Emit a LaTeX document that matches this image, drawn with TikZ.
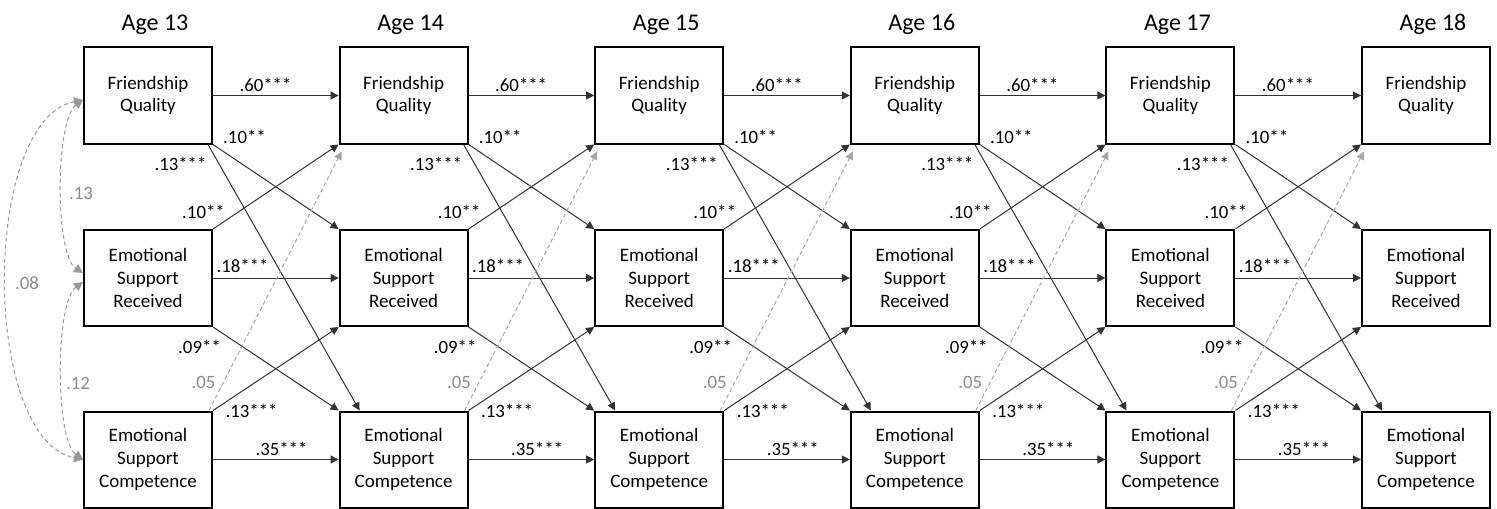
\documentclass[tikz,border=0pt]{standalone}
\usepackage{fontspec}
\setmainfont{Carlito}
\usetikzlibrary{arrows.meta, positioning}

\begin{document}
\begin{tikzpicture}[
    x=0.5pt, y=-0.5pt,
    var/.style={rectangle, draw=black, line width=1pt, minimum width=64pt,
                minimum height=48pt, inner sep=0pt, align=center,
                font=\fontsize{9.5pt}{11.3pt}\selectfont},
    age/.style={inner sep=0pt, font=\fontsize{12pt}{14pt}\selectfont},
    coef/.style={inner sep=0pt, font=\fontsize{9.4pt}{11pt}\selectfont},
    ncoef/.style={coef, text=black!45},
    reg/.style={-{Triangle[length=4pt, width=4pt]}, line width=0.5pt, draw=black!80},
    nsreg/.style={-{Triangle[length=4pt, width=4pt]}, line width=0.5pt, draw=black!35,
                  dash pattern=on 2pt off 1.5pt},
    cov/.style={{Triangle[length=4.5pt, width=4.5pt]}-{Triangle[length=4.5pt, width=4.5pt]},
                line width=0.5pt, draw=black!40, dash pattern=on 2pt off 1.5pt},
]
\useasboundingbox (0,0) rectangle (1497,508);

% Variables at each age
\foreach \a [evaluate=\a as \x using 148+255.6*(\a-13)] in {13,...,18}{
  \node[var] (fq\a)  at (\x, 95.5)  {Friendship\\Quality};
  \node[var] (esr\a) at (\x, 278)   {Emotional\\Support\\Received};
  \node[var] (esc\a) at (\x, 459.5) {Emotional\\Support\\Competence};
  \node[age, above=5.5pt of fq\a, xshift=3.5pt] (age\a) {Age \a};
}

% Stability and cross-lagged paths
\foreach \a [evaluate=\a as \b using int(\a+1)] in {13,...,17}{
  \draw[reg] (fq\a) -- (fq\b);
  \draw[reg] (esr\a) -- (esr\b);
  \draw[reg] (esc\a) -- (esc\b);
  \draw[reg] (fq\a.south east) -- (esr\b.north west);
  \draw[reg] ([xshift=-2.5pt]fq\a.south east) -- ([xshift=10.5pt]esc\b.north west);
  \draw[reg] (esr\a.north east) -- (fq\b.south west);
  \draw[reg] (esr\a.south east) -- (esc\b.north west);
  \draw[reg] (esc\a.north east) -- (esr\b.south west);
  \draw[nsreg] ([xshift=-2pt]esc\a.north east) -- ([shift={(3,7)}]fq\b.south west);

  \node[coef] (fqfq\a)   at ([shift={(52.5,-10.5)}]fq\a.east)        {.60***};
  \node[coef] (fqesr\a)  at ([shift={(31.5,-8)}]fq\a.south east)     {.10**};
  \node[coef] (fqesc\a)  at ([shift={(-32.5,19)}]fq\a.south east)    {.13***};
  \node[coef] (esrfq\a)  at ([shift={(-9.5,-17)}]esr\a.north east)   {.10**};
  \node[coef] (esresr\a) at ([shift={(29.5,-12)}]esr\a.east)         {.18***};
  \node[coef] (esresc\a) at ([shift={(-13.5,20)}]esr\a.south east)   {.09**};
  \node[ncoef] (escfq\a) at ([shift={(-9.5,-28.5)}]esc\a.north east) {.05};
  \node[coef] (escesr\a) at ([shift={(38.5,0.5)}]esc\a.north east)   {.13***};
  \node[coef] (escesc\a) at ([shift={(68.5,-10.5)}]esc\a.east)       {.35***};
}

% Correlations at age 13
\draw[cov] ([shift={(0,4.5)}]fq13.west) .. controls +(-28,20) and +(-28,-18)
     .. ([shift={(0,-5)}]esr13.west);
\draw[cov] ([shift={(0,4)}]esr13.west) .. controls +(-28,20) and +(-28,-20)
     .. (esc13.west);
\draw[cov] ([shift={(0,4.5)}]fq13.west) .. controls +(-102,20) and +(-102,-20)
     .. (esc13.west);
\node[ncoef] (r1) at (81,193) {.13};
\node[ncoef] (r2) at (78,383) {.12};
\node[ncoef] (r3) at (27,283) {.08};

\end{tikzpicture}
\end{document}
